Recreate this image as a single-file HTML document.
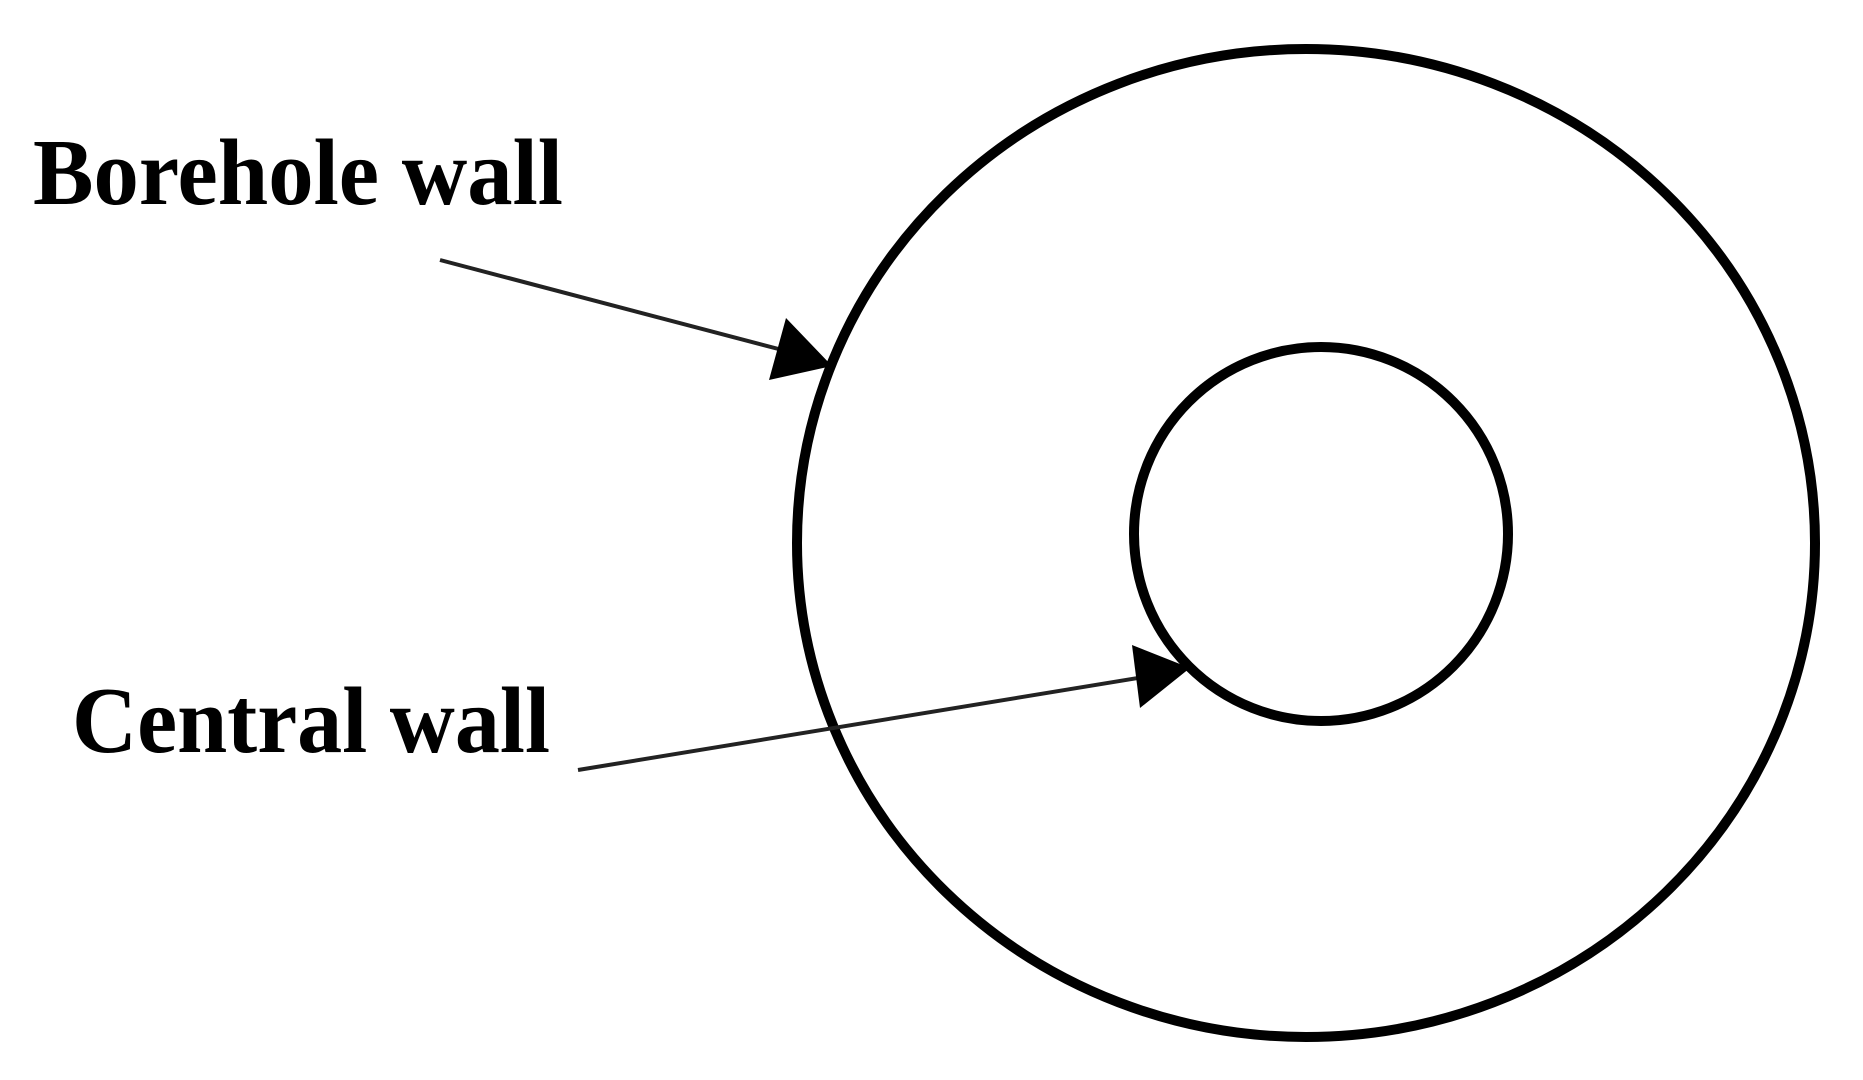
<!DOCTYPE html>
<html><head><meta charset="utf-8"><style>
html,body{margin:0;padding:0;background:#fff;}
svg{display:block;}
</style></head><body>
<svg width="1863" height="1080" viewBox="0 0 1863 1080" xmlns="http://www.w3.org/2000/svg">
<rect width="1863" height="1080" fill="#fff"/>
<ellipse cx="1306" cy="543" rx="509" ry="494" fill="none" stroke="#000" stroke-width="10"/>
<ellipse cx="1321" cy="534" rx="187" ry="187" fill="none" stroke="#000" stroke-width="10"/>
<text x="33" y="204" font-family="Liberation Serif, serif" font-weight="bold" font-size="94" textLength="530" lengthAdjust="spacingAndGlyphs">Borehole wall</text>
<text x="72" y="752" font-family="Liberation Serif, serif" font-weight="bold" font-size="94" textLength="478" lengthAdjust="spacingAndGlyphs">Central wall</text>
<line x1="440" y1="260" x2="790" y2="352" stroke="#222" stroke-width="4"/>
<polygon points="832,366 786,318 769,380" fill="#000"/>
<line x1="578" y1="770" x2="1150" y2="676" stroke="#222" stroke-width="4"/>
<polygon points="1190,668 1132,645 1140,708" fill="#000"/>
</svg>
</body></html>
